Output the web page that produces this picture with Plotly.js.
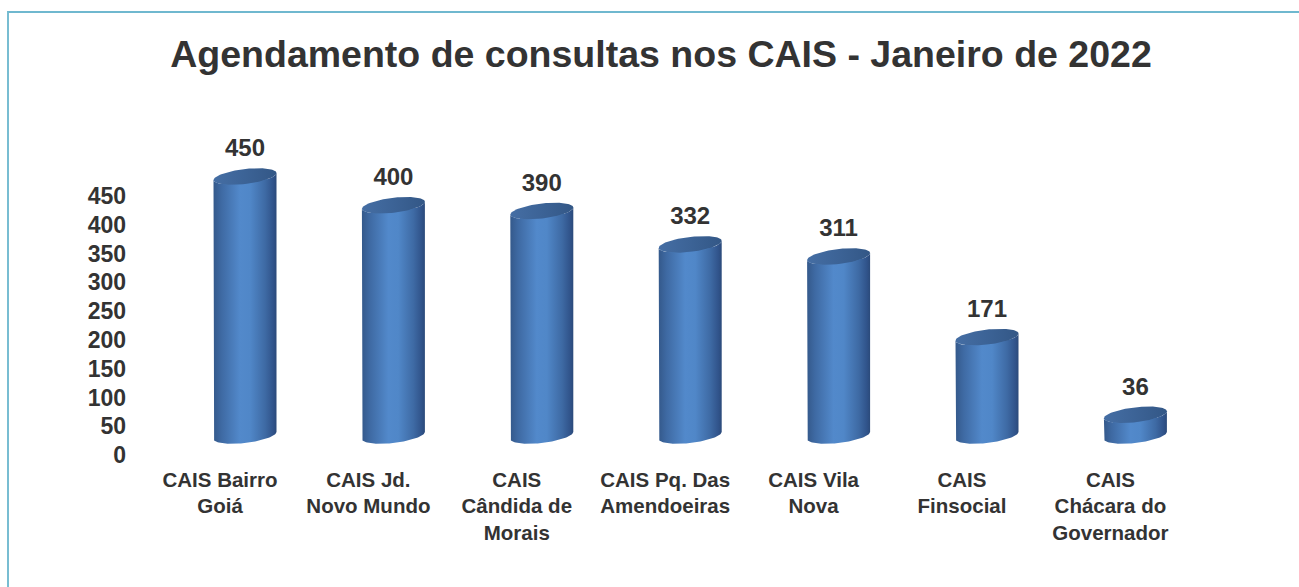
<!DOCTYPE html>
<html>
<head>
<meta charset="utf-8">
<script src="https://cdn.plot.ly/plotly-3.0.1.min.js"></script>
<style>
  html, body { margin: 0; padding: 0; background: #ffffff; }
  #chart { width: 1299px; height: 587px; }
  #frame { position: absolute; left: 7px; top: 11px; width: 1300px; height: 600px;
           border-top: 2px solid #6fb8cf; border-left: 2px solid #78bdd2; pointer-events: none; }
</style>
</head>
<body>
<div id="chart"></div>
<div id="frame"></div>
<script>
// ---- data ----
const categories = ["CAIS Bairro Goiá", "CAIS Jd. Novo Mundo", "CAIS Cândida de Morais",
                    "CAIS Pq. Das Amendoeiras", "CAIS Vila Nova", "CAIS Finsocial", "CAIS Chácara do Governador"];
const tickLabels = ["CAIS Bairro<br>Goiá", "CAIS Jd.<br>Novo Mundo", "CAIS<br>Cândida de<br>Morais",
                    "CAIS Pq. Das<br>Amendoeiras", "CAIS Vila<br>Nova", "CAIS<br>Finsocial", "CAIS<br>Chácara do<br>Governador"];
const consultas = [450, 400, 390, 332, 311, 171, 36];
const yTicks = [0, 50, 100, 150, 200, 250, 300, 350, 400, 450];

// ---- layout geometry (pixels) ----
const W = 1299, H = 587;
const mL = 130, mR = 49, mT = 130, mB = 122;
const plotW = W - mL - mR, plotH = H - mT - mB;
const pxPerCat = 148.4;          // horizontal distance between categories
const pxPerUnit = 0.5756;        // vertical pixels per value unit
const labelX0 = 220;             // px of first category label centre
const cylX0 = 245;               // px of first cylinder centre (3D depth offset)
const axisZeroY = 455;           // px of the value-axis zero
const cylZeroY = 435.5;          // px of the cylinder base centre (3D depth offset)
const cylRadiusPx = 31.5, ellRyPx = 7.5, tiltPx = 3.5;

const xIdx = categories.map((c, i) => i);
const x1 = [-(labelX0 - mL) / pxPerCat]; x1.push(x1[0] + plotW / pxPerCat);
const x2 = [-(cylX0 - mL) / pxPerCat]; x2.push(x2[0] + plotW / pxPerCat);
const y1 = [-(mT + plotH - axisZeroY) / pxPerUnit]; y1.push(y1[0] + plotH / pxPerUnit);
const y2 = [-(mT + plotH - cylZeroY) / pxPerUnit]; y2.push(y2[0] + plotH / pxPerUnit);

const a = cylRadiusPx / pxPerCat, b = ellRyPx / pxPerUnit, sh = tiltPx / pxPerUnit;
function ellPt(cx, c, t) { return [cx + a * Math.cos(t), c + sh * Math.cos(t) + b * Math.sin(t)]; }

const traces = [];
// base subplot carrier (draws nothing, keeps the labelled axes alive)
traces.push({
  type: 'scatter', mode: 'none', x: xIdx, y: consultas, xaxis: 'x', yaxis: 'y',
  hoverinfo: 'skip', showlegend: false
});
// data carrier bars (covered by the cylinder shading)
traces.push({
  type: 'bar', x: xIdx, y: consultas, xaxis: 'x2', yaxis: 'y2',
  width: 1.4 * a, marker: { color: '#4a7fc0' }, hoverinfo: 'skip', showlegend: false
});

const N = 48;
consultas.forEach((v, i) => {
  // cylinder body
  const bx = [], by = [];
  let p = ellPt(i, v, Math.PI); bx.push(p[0]); by.push(p[1]);
  for (let k = 0; k <= N; k++) {
    const t = Math.PI + Math.PI * k / N;
    p = ellPt(i, 0, t); bx.push(p[0]); by.push(p[1]);
  }
  for (let k = 0; k <= N; k++) {
    const t = 2 * Math.PI - Math.PI * k / N;
    p = ellPt(i, v, t); bx.push(p[0]); by.push(p[1]);
  }
  traces.push({
    type: 'scatter', mode: 'lines', x: bx, y: by, xaxis: 'x2', yaxis: 'y2',
    fill: 'toself', line: { width: 0 }, hoverinfo: 'skip', showlegend: false,
    fillgradient: { type: 'horizontal', colorscale: [
      [0, '#34598b'], [0.12, '#3e69a2'], [0.42, '#5289cb'], [0.58, '#5087c8'],
      [0.82, '#3e6aa4'], [0.95, '#30538a'], [1, '#2b4a7a']] }
  });
  // top ellipse
  const tx = [], ty = [];
  for (let k = 0; k <= 2 * N; k++) {
    p = ellPt(i, v, Math.PI * k / N); tx.push(p[0]); ty.push(p[1]);
  }
  traces.push({
    type: 'scatter', mode: 'lines', x: tx, y: ty, xaxis: 'x2', yaxis: 'y2',
    fill: 'toself', line: { width: 0 }, hoverinfo: 'skip', showlegend: false,
    fillgradient: { type: 'horizontal', colorscale: [[0, '#456ea4'], [0.5, '#3c6396'], [1, '#335786']] }
  });
});

// value labels
const labelOffsetUnits = 26 / pxPerUnit;
traces.push({
  type: 'scatter', mode: 'text', x: xIdx, y: consultas.map(v => v + labelOffsetUnits),
  text: consultas.map(String), textposition: 'middle center', xaxis: 'x2', yaxis: 'y2',
  textfont: { family: 'Liberation Sans, Arial, sans-serif', size: 24, color: '#333333', weight: 'bold' },
  hoverinfo: 'skip', showlegend: false, cliponaxis: false
});

const layout = {
  width: W, height: H,
  margin: { l: mL, r: mR, t: mT, b: mB },
  paper_bgcolor: '#ffffff', plot_bgcolor: 'rgba(0,0,0,0)',
  showlegend: false,
  title: {
    text: 'Agendamento de consultas nos CAIS - Janeiro de 2022',
    font: { family: 'Liberation Sans, Arial, sans-serif', size: 37.5, color: '#333333', weight: 'bold' },
    xref: 'container', yref: 'container', x: 661 / W, xanchor: 'center', y: 1 - 54 / H, yanchor: 'middle'
  },
  xaxis: {
    range: x1, tickmode: 'array', tickvals: xIdx, ticktext: tickLabels,
    showgrid: false, zeroline: false, showline: false, ticks: '', automargin: false,
    tickfont: { family: 'Liberation Sans, Arial, sans-serif', size: 20.5, color: '#333333', weight: 'bold' },
    fixedrange: true
  },
  yaxis: {
    range: y1, tickmode: 'array', tickvals: yTicks, ticktext: yTicks.map(String),
    showgrid: false, zeroline: false, showline: false, ticks: '', automargin: false,
    ticklabelstandoff: 3,
    tickfont: { family: 'Liberation Sans, Arial, sans-serif', size: 23, color: '#333333', weight: 'bold' },
    fixedrange: true
  },
  xaxis2: { range: x2, overlaying: 'x', visible: false, fixedrange: true },
  yaxis2: { range: y2, overlaying: 'y', visible: false, fixedrange: true },
  bargap: 0
};

Plotly.newPlot('chart', traces, layout, { displayModeBar: false, staticPlot: true });
</script>
</body>
</html>
